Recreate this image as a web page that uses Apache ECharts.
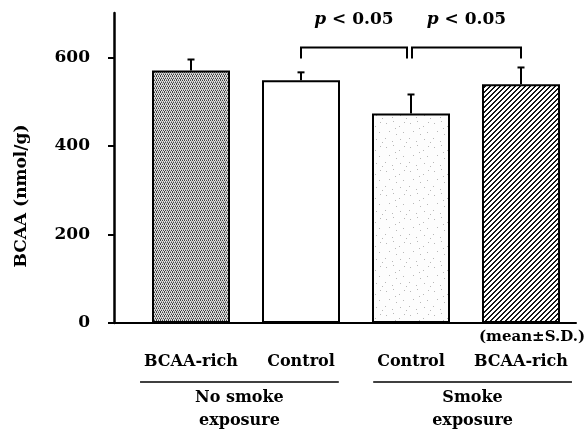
<!DOCTYPE html>
<html><head><meta charset="utf-8">
<script src="https://cdn.jsdelivr.net/npm/echarts@6/dist/echarts.min.js"></script>
<style>html,body{margin:0;padding:0;background:#fff}#c{width:587px;height:430px}</style>
</head><body><div id="c"></div>
<script>
const categories = ['BCAA-rich', 'Control', 'Control', 'BCAA-rich'];
const values = [570, 548, 473, 539];
const errors = [25, 18, 43, 38];
const yTicks = [0, 200, 400, 600];
const groups = [{name: 'No smoke\nexposure', from: 0, to: 1}, {name: 'Smoke\nexposure', from: 2, to: 3}];
const brackets = [{from: 1, to: 2, label: 'p < 0.05'}, {from: 2, to: 3, label: 'p < 0.05'}];
const bracketTop = 622, bracketLeg = 597;
const yName = 'BCAA (nmol/g)';
const noteText = '(mean\u00b1S.D.)';

const FONT = '"DejaVu Serif", serif';

function makePattern(w, h, draw) {
  const c = document.createElement('canvas'); c.width = w; c.height = h;
  const ctx = c.getContext('2d'); draw(ctx, w, h); return c;
}
const patDots = makePattern(4, 4, (ctx, w, h) => {
  ctx.fillStyle = '#e0e0e0'; ctx.fillRect(0, 0, w, h);
  ctx.fillStyle = '#444';
  [[0,0],[2,0],[1,2],[3,2],[0,3]].forEach(p => ctx.fillRect(p[0], p[1], 1, 1));
  ctx.fillStyle = '#999';
  [[1,1],[3,1],[2,3]].forEach(p => ctx.fillRect(p[0], p[1], 1, 1));
});
const patSpeck = makePattern(24, 24, (ctx, w, h) => {
  ctx.fillStyle = '#fdfdfd'; ctx.fillRect(0, 0, w, h);
  ctx.fillStyle = '#b8b8b8';
  [[2,3],[9,1],[15,6],[20,2],[5,11],[12,14],[19,12],[1,18],[8,21],[16,19],[22,22],[11,8]].forEach(p => ctx.fillRect(p[0], p[1], 1, 1));
});
const patHatch = makePattern(5, 5, (ctx, w, h) => {
  ctx.fillStyle = '#fff'; ctx.fillRect(0, 0, w, h);
  const img = ctx.getImageData(0, 0, w, h);
  for (let y = 0; y < h; y++) for (let x = 0; x < w; x++) {
    const k = (x + y) % 5;
    if (k === 0 || k === 1) { const i = (y * w + x) * 4; img.data[i] = img.data[i+1] = img.data[i+2] = 20; }
  }
  ctx.putImageData(img, 0, 0);
});
const fills = [
  {image: patDots, repeat: 'repeat'},
  '#ffffff',
  {image: patSpeck, repeat: 'repeat'},
  {image: patHatch, repeat: 'repeat'}
];

const chart = echarts.init(document.getElementById('c'), null, {renderer: 'canvas'});
chart.setOption({
  animation: false,
  grid: {left: 136, right: 11, top: 13, bottom: 107},
  xAxis: {
    type: 'category', data: categories,
    axisLine: {lineStyle: {color: '#000', width: 2}},
    axisTick: {alignWithLabel: true, interval: 0, length: 4, lineStyle: {color: '#000', width: 1.5}},
    axisLabel: {interval: 0, color: '#000', fontFamily: FONT, fontWeight: 'bold', fontSize: 16, margin: 31}
  },
  yAxis: {
    type: 'value', min: 0, max: 700, interval: 200, offset: 22,
    splitLine: {show: false},
    axisLine: {show: true, lineStyle: {color: '#000', width: 2.5}},
    axisTick: {show: true, length: 6, customValues: yTicks, lineStyle: {color: '#000', width: 2}},
    axisLabel: {color: '#000', fontFamily: FONT, fontWeight: 'bold', fontSize: 17, margin: 24, customValues: yTicks}
  },
  series: [
    {
      type: 'bar', barWidth: 78,
      data: values.map((v, i) => ({value: v, itemStyle: {color: fills[i]}})),
      itemStyle: {borderColor: '#000', borderWidth: 2}
    },
    {
      type: 'custom', z: 5,
      data: values.map((v, i) => [i, v, errors[i]]),
      renderItem: function (params, api) {
        const base = api.coord([api.value(0), api.value(1)]);
        const top = api.coord([api.value(0), api.value(1) + api.value(2)]);
        return {type: 'group', children: [
          {type: 'line', shape: {x1: base[0], y1: base[1], x2: top[0], y2: top[1]}, style: {stroke: '#000', lineWidth: 2}},
          {type: 'line', shape: {x1: top[0] - 3.5, y1: top[1], x2: top[0] + 3.5, y2: top[1]}, style: {stroke: '#000', lineWidth: 2}}
        ]};
      }
    }
  ]
});

function px(i, v) { return chart.convertToPixel({xAxisIndex: 0, yAxisIndex: 0}, [i, v]); }
const mctx = document.createElement('canvas').getContext('2d');
mctx.font = 'bold 16px ' + FONT;
const graphics = [];
const g0 = px(0, 0);
const gridLeft = 136, axisX = 114;
graphics.push({type: 'line', shape: {x1: axisX, y1: g0[1], x2: gridLeft, y2: g0[1]}, style: {stroke: '#000', lineWidth: 2}});
graphics.push({type: 'text', x: 22, y: 196, rotation: Math.PI / 2,
  style: {text: yName, font: 'bold 17px ' + FONT, fill: '#000', align: 'center', verticalAlign: 'middle'}});
const underlineY = 382;
groups.forEach(g => {
  const a = px(g.from, 0)[0], b = px(g.to, 0)[0];
  const x1 = a - mctx.measureText(categories[g.from]).width / 2 - 4;
  const x2 = b + mctx.measureText(categories[g.to]).width / 2 + 4;
  graphics.push({type: 'line', shape: {x1: x1, y1: underlineY, x2: x2, y2: underlineY}, style: {stroke: '#000', lineWidth: 1.5}});
  graphics.push({type: 'text', x: (x1 + x2) / 2, y: underlineY + 4,
    style: {text: g.name, font: 'bold 16px ' + FONT, fill: '#000', align: 'center', verticalAlign: 'top', lineHeight: 23}});
});
brackets.forEach((br, k) => {
  let xa = px(br.from, 0)[0], xb = px(br.to, 0)[0];
  if (k === 0) xb -= 4; else xa += 1;
  const yt = px(0, bracketTop)[1], yl = px(0, bracketLeg)[1];
  graphics.push({type: 'polyline', shape: {points: [[xa, yl], [xa, yt], [xb, yt], [xb, yl]]},
    style: {stroke: '#000', lineWidth: 2, fill: null}});
  const parts = br.label.split(' ');
  graphics.push({type: 'text', x: (xa + xb) / 2, y: 20,
    style: {text: '{it|' + parts[0] + '} ' + parts.slice(1).join(' '), font: 'bold 17px ' + FONT, fill: '#000',
      align: 'center', verticalAlign: 'middle',
      rich: {it: {fontStyle: 'italic', fontWeight: 'bold', fontFamily: FONT, fontSize: 17}}}});
});
graphics.push({type: 'text', x: 585, y: 337,
  style: {text: noteText, font: 'bold 15px ' + FONT, fill: '#000', align: 'right', verticalAlign: 'middle'}});
chart.setOption({graphic: graphics});
</script></body></html>
